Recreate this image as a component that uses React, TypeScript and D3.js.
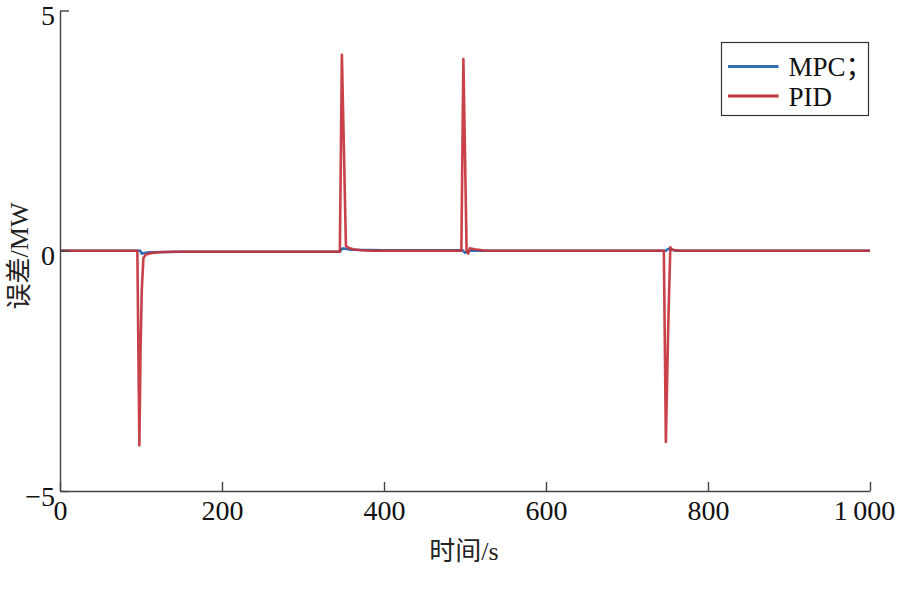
import React, { useEffect, useRef } from "react";
import * as d3 from "d3";

// time (s) / error (MW)
const pidTime = [0, 95.5, 98, 99.5, 101, 103, 106, 112, 122, 140, 160, 345.5, 348, 350.5, 353, 356, 362, 372, 385, 495.5, 498, 500, 502, 504, 506, 512, 525, 745.5, 748, 751, 753.5, 756, 765, 1000];
const pidValue = [0, 0, -4.05, -2.0, -0.8, -0.15, -0.08, -0.05, -0.03, -0.02, -0.02, -0.02, 4.08, 2.1, 0.1, 0.06, 0.03, 0.01, 0, 0, 3.99, 2.0, 0.0, -0.06, 0.05, 0.03, 0, 0, -3.98, -1.5, 0.07, 0.02, 0, 0];

const mpcTime = [0, 99, 101, 110, 150, 345, 349, 360, 400, 497, 500, 505, 748, 751, 760, 1000];
const mpcValue = [0, 0, -0.06, -0.03, -0.02, -0.02, 0.05, 0.02, 0.01, 0.01, -0.04, 0, 0, 0.04, 0, 0];

const xTicks = [0, 200, 400, 600, 800, 1000];
const yTicks = [-5, 0, 5];
const legendLabels = ["MPC；", "PID"];

const W = 898;
const H = 592;
const SERIF = "'Liberation Serif', 'Times New Roman', 'Noto Sans CJK SC', serif";
const BLUE = "#2f6eb3";
const RED = "#c4323b";

type Pt = { t: number; v: number };

export default function App() {
  const svgRef = useRef<SVGSVGElement>(null);

  useEffect(() => {
    document.body.style.margin = "0";
    if (!svgRef.current) return;
    const svg = d3.select(svgRef.current);
    svg.selectAll("*").remove();

    const x = d3.scaleLinear().domain([0, 1000]).range([60, 870]);
    const y = d3.scaleLinear().domain([-5, 5]).range([491, 10.5]);

    const line = d3
      .line<Pt>()
      .x((d) => x(d.t))
      .y((d) => y(d.v));

    const mpc: Pt[] = mpcTime.map((t, i) => ({ t, v: mpcValue[i] }));
    const pid: Pt[] = pidTime.map((t, i) => ({ t, v: pidValue[i] }));

    svg
      .append("path")
      .datum(mpc)
      .attr("d", line)
      .attr("fill", "none")
      .attr("stroke", BLUE)
      .attr("stroke-width", 2.6);

    svg
      .append("path")
      .datum(pid)
      .attr("d", line)
      .attr("fill", "none")
      .attr("stroke", RED)
      .attr("stroke-width", 2.6)
      .attr("stroke-opacity", 0.92)
      .attr("stroke-linejoin", "round");

    // axes
    const xAxis = d3
      .axisBottom(x)
      .tickValues(xTicks)
      .tickSizeInner(-9)
      .tickSizeOuter(0)
      .tickPadding(9)
      .tickFormat((d) => (d === 1000 ? "1\u2009000" : String(d)));

    const yAxis = d3
      .axisLeft(y)
      .tickValues(yTicks)
      .tickSizeInner(-9)
      .tickSizeOuter(0)
      .tickPadding(5)
      .tickFormat((d) => String(d).replace("-", "−"));

    const gx = svg.append("g").attr("transform", `translate(0,${y(-5)})`).call(xAxis);
    const gy = svg.append("g").attr("transform", `translate(${x(0)},0)`).call(yAxis);

    [gx, gy].forEach((g) => {
      g.select(".domain").attr("stroke", "#444").attr("stroke-width", 1.4);
      g.selectAll(".tick line").attr("stroke", "#444").attr("stroke-width", 1.4);
      g.selectAll(".tick text")
        .attr("fill", "#111")
        .attr("font-family", SERIF)
        .attr("font-size", 28);
    });
    gy.selectAll(".tick text").attr("dy", "0.5em");
    // last label sits against the right edge in the reference
    gx.selectAll<SVGTextElement, number>(".tick text")
      .filter((d) => d === 1000)
      .attr("dx", -6);

    // axis titles
    svg
      .append("text")
      .attr("x", 464)
      .attr("y", 560)
      .attr("text-anchor", "middle")
      .attr("font-family", SERIF)
      .attr("font-size", 26)
      .attr("fill", "#222")
      .text("时间/s");

    svg
      .append("text")
      .attr("transform", `translate(28,256) rotate(-90)`)
      .attr("text-anchor", "middle")
      .attr("font-family", SERIF)
      .attr("font-size", 26)
      .attr("fill", "#222")
      .text("误差/MW");

    // legend
    const lg = svg.append("g").attr("transform", "translate(721.5,42.5)");
    lg.append("rect")
      .attr("width", 147)
      .attr("height", 73)
      .attr("fill", "white")
      .attr("stroke", "#333")
      .attr("stroke-width", 1.2);

    const colors = [BLUE, RED];
    legendLabels.forEach((label, i) => {
      const cy = 24 + i * 29.5;
      lg.append("line")
        .attr("x1", 6.5)
        .attr("x2", 57)
        .attr("y1", cy)
        .attr("y2", cy)
        .attr("stroke", colors[i])
        .attr("stroke-width", 3);
      lg.append("text")
        .attr("x", 67)
        .attr("y", cy + 9.5)
        .attr("font-family", SERIF)
        .attr("font-size", 27)
        .attr("fill", "#111")
        .text(label);
    });
  }, []);

  return (
    <svg
      ref={svgRef}
      width={W}
      height={H}
      style={{ display: "block", background: "white" }}
    />
  );
}
